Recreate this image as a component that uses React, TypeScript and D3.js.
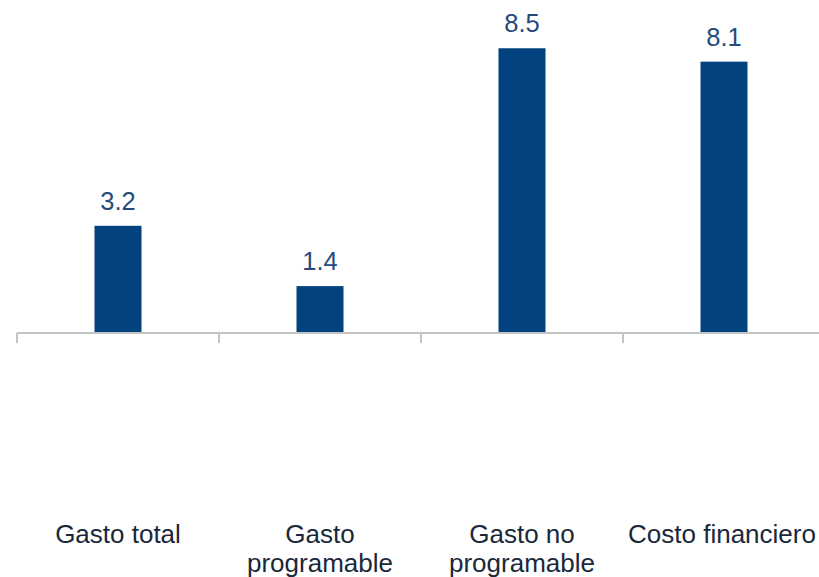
import React from "react";
import * as d3 from "d3";

const categories: string[][] = [
  ["Gasto total"],
  ["Gasto", "programable"],
  ["Gasto no", "programable"],
  ["Costo financiero"],
];
const categoryKeys = ["Gasto total", "Gasto programable", "Gasto no programable", "Costo financiero"];
const values = [3.2, 1.4, 8.5, 8.1];
const valueLabels = ["3.2", "1.4", "8.5", "8.1"];

export default function App() {
  const W = 819;
  const H = 577;
  const x = d3.scaleBand<string>().domain(categoryKeys).range([17, 825]).paddingInner(0).paddingOuter(0);
  const y = d3.scaleLinear().domain([0, 9]).range([333, 333 - 9 * 33.5]);
  const barW = 47;
  const font = "'Liberation Sans', Arial, sans-serif";
  const ticks = [...categoryKeys.map((k) => x(k)!)];

  return (
    <svg width={W} height={H} style={{ position: "absolute", left: 0, top: 0, background: "#fff" }}>
      {categoryKeys.map((k, i) => {
        const cx = x(k)! + x.bandwidth() / 2;
        return (
          <g key={k}>
            <rect x={cx - barW / 2} y={y(values[i])} width={barW} height={y(0) - y(values[i])} fill="#02427f" />
            <text x={cx} y={y(values[i]) - 16} textAnchor="middle" fontFamily={font} fontSize={25.5} fill="#254b7a">
              {valueLabels[i]}
            </text>
            {categories[i].map((line, j) => (
              <text key={j} x={i === 3 ? cx - 2 : cx} y={543 + j * 29} textAnchor="middle" fontFamily={font} fontSize={26} fill="#1a283b">
                {line}
              </text>
            ))}
          </g>
        );
      })}
      <line x1={17} x2={W} y1={y(0)} y2={y(0)} stroke="#c4c4c4" strokeWidth={2} />
      {ticks.map((t, i) => (
        <line key={i} x1={t} x2={t} y1={y(0)} y2={y(0) + 10} stroke="#c4c4c4" strokeWidth={2} />
      ))}
    </svg>
  );
}
